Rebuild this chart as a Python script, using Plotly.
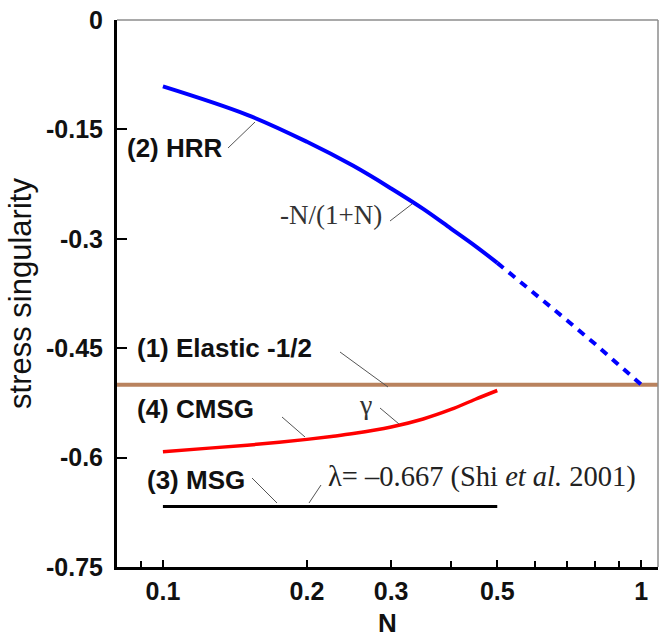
import plotly.graph_objects as go

# ---- data -------------------------------------------------------------
# (2) HRR exponent -N/(1+N): solid up to N = 0.5, dashed continuation to N = 1
hrr_n = [0.1, 0.15, 0.2, 0.25, 0.3, 0.35, 0.4, 0.45, 0.5]
hrr_s = [-0.091, -0.130, -0.167, -0.200, -0.231, -0.259, -0.286, -0.310, -0.333]
hrr_ext_n = [0.5, 0.6, 0.7, 0.8, 0.9, 1.0]
hrr_ext_s = [-0.333, -0.375, -0.412, -0.444, -0.474, -0.500]

# (4) CMSG singularity gamma
cmsg_n = [0.1, 0.125, 0.15, 0.175, 0.2, 0.225, 0.25, 0.3, 0.35, 0.4, 0.45, 0.5]
cmsg_s = [-0.592, -0.587, -0.583, -0.579, -0.575, -0.571, -0.567, -0.558,
          -0.547, -0.534, -0.520, -0.508]

# (3) MSG singularity lambda
msg_n = [0.1, 0.5]
msg_s = [-0.667, -0.667]

# (1) elastic singularity
elastic_s = -0.5

x_log_range = [-1.096, 0.035]
x_ticks = [0.1, 0.2, 0.3, 0.5, 1]
x_tick_text = ["0.1", "0.2", "0.3", "0.5", "1"]
x_minor_ticks = [0.09, 0.4, 0.6, 0.7, 0.8, 0.9]
y_ticks = [0, -0.15, -0.3, -0.45, -0.6, -0.75]
y_tick_text = ["0", "-0.15", "-0.3", "-0.45", "-0.6", "-0.75"]

# ---- figure geometry ----------------------------------------------------
W, H = 661, 638
ML, MR, MT, MB = 117, 3, 20, 71
PW, PH = W - ML - MR, H - MT - MB

SANS = "Liberation Sans, Arial, sans-serif"
SERIF = "Liberation Serif, Times New Roman, serif"


def px(x):
    return (x - ML) / PW


def py(y):
    return (H - MB - y) / PH


fig = go.Figure()

n_lo, n_hi = 10 ** x_log_range[0], 10 ** x_log_range[1]
fig.add_trace(go.Scatter(x=[n_lo, n_hi], y=[elastic_s, elastic_s], mode="lines",
                         line=dict(color="#b9825e", width=4), cliponaxis=False))
fig.add_trace(go.Scatter(x=hrr_ext_n, y=hrr_ext_s, mode="lines",
                         line=dict(color="#0000ff", width=4, dash="8px,7px")))
fig.add_trace(go.Scatter(x=hrr_n, y=hrr_s, mode="lines", line_shape="spline",
                         line=dict(color="#0000ff", width=4)))
fig.add_trace(go.Scatter(x=cmsg_n, y=cmsg_s, mode="lines", line_shape="spline",
                         line=dict(color="#ff0000", width=3.5)))
fig.add_trace(go.Scatter(x=msg_n, y=msg_s, mode="lines",
                         line=dict(color="#000000", width=3)))

# labels (plus the x-axis title, placed as free text below the tick labels)
labels = [
    ("<b>(2) HRR</b>", 125, 148, "left", SANS, 26, "#111"),
    ("-N/(1+N)", 278, 215, "left", SERIF, 27, "#333"),
    ("<b>(1) Elastic -1/2</b>", 135, 348, "left", SANS, 26, "#111"),
    ("<b>(4) CMSG</b>", 135, 409, "left", SANS, 26, "#111"),
    ("γ", 357, 405, "left", SERIF, 28, "#333"),
    ("<b>(3) MSG</b>", 145, 480, "left", SANS, 26, "#111"),
    ("λ= –0.667 (Shi <i>et al.</i> 2001)", 326, 477, "left", SERIF, 28.5, "#222"),
    ("<b>N</b>", ML + PW / 2, 623, "center", SANS, 26, "#111"),
]
annotations = []
for text, x, y, anchor, fam, size, col in labels:
    annotations.append(dict(text=text, x=px(x), y=py(y), xref="paper", yref="paper",
                            xanchor=anchor, yanchor="middle", showarrow=False,
                            font=dict(family=fam, size=size, color=col)))

# leader lines from labels to curves
leaders = [
    ((228, 148), (255, 122)),
    ((390, 221), (412, 204)),
    ((340, 352), (388, 387)),
    ((282, 417), (305, 437)),
    ((380, 408), (399, 424)),
    ((252, 478), (277, 503)),
    ((321, 485), (309, 503)),
]
shapes = []
for (x0, y0), (x1, y1) in leaders:
    shapes.append(dict(type="line", xref="paper", yref="paper",
                       x0=px(x0), y0=py(y0), x1=px(x1), y1=py(y1),
                       line=dict(color="#555", width=1)))
# thin frame on top and right
shapes.append(dict(type="line", xref="paper", yref="paper", x0=0, y0=1, x1=1, y1=1,
                   line=dict(color="#8c8c8c", width=1.5)))
shapes.append(dict(type="line", xref="paper", yref="paper", x0=1, y0=0, x1=1, y1=1,
                   line=dict(color="#8c8c8c", width=1.5)))

fig.update_layout(
    width=W, height=H,
    margin=dict(l=ML, r=MR, t=MT, b=MB, pad=0),
    paper_bgcolor="white", plot_bgcolor="white",
    showlegend=False,
    annotations=annotations,
    shapes=shapes,
    xaxis=dict(
        type="log", range=x_log_range,
        tickmode="array", tickvals=x_ticks, ticktext=x_tick_text,
        ticks="inside", ticklen=7, tickwidth=2, tickcolor="black",
        minor=dict(tickmode="array", tickvals=x_minor_ticks, ticks="inside",
                   ticklen=6, tickwidth=2, tickcolor="black", showgrid=False),
        showline=True, linecolor="black", linewidth=3,
        showgrid=False, zeroline=False,
        tickfont=dict(family=SANS, size=25, color="#111", weight="bold"),
        ticklabelstandoff=0,
    ),
    yaxis=dict(
        range=[-0.75, 0],
        tickmode="array", tickvals=y_ticks, ticktext=y_tick_text,
        ticks="inside", ticklen=10, tickwidth=2, tickcolor="black",
        showline=True, linecolor="black", linewidth=3,
        showgrid=False, zeroline=False,
        tickfont=dict(family=SANS, size=25, color="#111", weight="bold"),
        ticklabelstandoff=6,
        title=dict(text="stress singularity",
                   font=dict(family=SANS, size=31, color="#111"), standoff=6),
    ),
)

fig.write_html("out.html")
